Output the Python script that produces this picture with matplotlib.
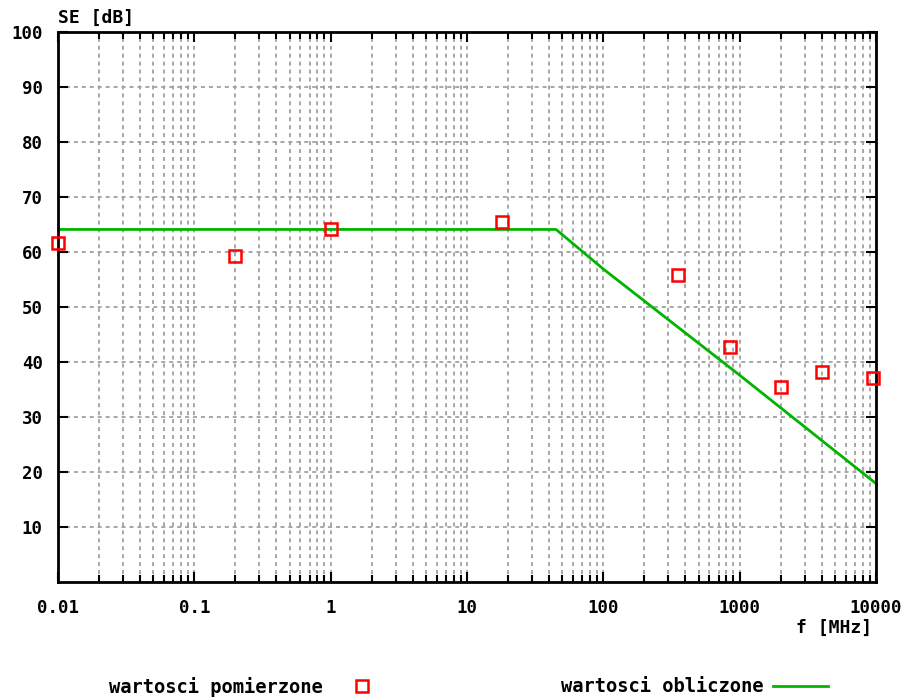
import matplotlib
matplotlib.use("Agg")
import matplotlib.pyplot as plt
from matplotlib.ticker import LogLocator, FixedLocator, NullFormatter
from matplotlib.lines import Line2D

# Measured shielding effectiveness
meas_f = [0.01, 0.2, 1, 18, 350, 850, 2000, 4000, 9500]
meas_se = [61.6, 59.3, 64.2, 65.5, 55.8, 42.8, 35.5, 38.1, 37.1]

# Calculated shielding effectiveness
calc_f = [0.01, 45, 100, 1000, 10000]
calc_se = [64.1, 64.1, 56.9, 37.6, 17.9]

xticks = [0.01, 0.1, 1, 10, 100, 1000, 10000]
xtick_labels = ["0.01", "0.1", "1", "10", "100", "1000", "10000"]
yticks = [10, 20, 30, 40, 50, 60, 70, 80, 90, 100]

FONT = "DejaVu Sans Mono"
W, H = 905, 697
fig = plt.figure(figsize=(W / 100, H / 100), dpi=100)
ax = fig.add_axes([58 / W, 1 - 582 / H, (876 - 58) / W, (582 - 32) / H])

ax.set_xscale("log")
ax.set_xlim(0.01, 10000)
ax.set_ylim(0, 100)

grid_kw = dict(color="#a0a0a0", linestyle=(0, (2.2, 2.2)), linewidth=1.3)
ax.xaxis.set_major_locator(FixedLocator(xticks))
ax.xaxis.set_minor_locator(LogLocator(base=10, subs=range(2, 10), numticks=20))
ax.xaxis.set_minor_formatter(NullFormatter())
ax.set_xticklabels(xtick_labels)
ax.set_yticks(yticks)
ax.grid(True, which="major", axis="both", **grid_kw)
ax.grid(True, which="minor", axis="x", **grid_kw)

ax.tick_params(which="both", direction="in", top=True, right=True,
               width=1.5, color="black")
ax.tick_params(which="major", length=7, labelsize=12.5)
ax.tick_params(which="minor", length=5)
ax.tick_params(axis="y", pad=11)
ax.tick_params(axis="x", pad=12)
for lab in ax.get_xticklabels() + ax.get_yticklabels():
    lab.set_fontfamily(FONT)
    lab.set_fontweight("bold")

for sp in ax.spines.values():
    sp.set_linewidth(2)
    sp.set_zorder(5)

green = "#00b400"
red = "#ff0000"
ax.plot(calc_f, calc_se, color=green, linewidth=2, zorder=3)
ax.plot(meas_f, meas_se, linestyle="none", marker="s", markersize=9,
        markerfacecolor="none", markeredgecolor=red, markeredgewidth=1.8,
        clip_on=False, zorder=6)

fig.text(58 / W, 1 - 18 / H, "SE [dB]", fontfamily=FONT, fontweight="bold",
         fontsize=13, ha="left", va="center")
fig.text(872 / W, 1 - 628 / H, "f [MHz]", fontfamily=FONT, fontweight="bold",
         fontsize=13, ha="right", va="center")

# Legend entries along the bottom edge
fig.text(323 / W, 1 - 687 / H, "wartosci pomierzone", fontfamily=FONT,
         fontweight="bold", fontsize=13.5, ha="right", va="center")
fig.add_artist(Line2D([362 / W], [1 - 686 / H], transform=fig.transFigure,
                      linestyle="none", marker="s", markersize=9,
                      markerfacecolor="none", markeredgecolor=red,
                      markeredgewidth=1.8))
fig.text(763 / W, 1 - 687 / H, "wartosci obliczone", fontfamily=FONT,
         fontweight="bold", fontsize=13.5, ha="right", va="center")
fig.add_artist(Line2D([773 / W, 828 / W], [1 - 686 / H, 1 - 686 / H],
                      transform=fig.transFigure, color=green, linewidth=2))

fig.savefig("out.png", dpi=100)
